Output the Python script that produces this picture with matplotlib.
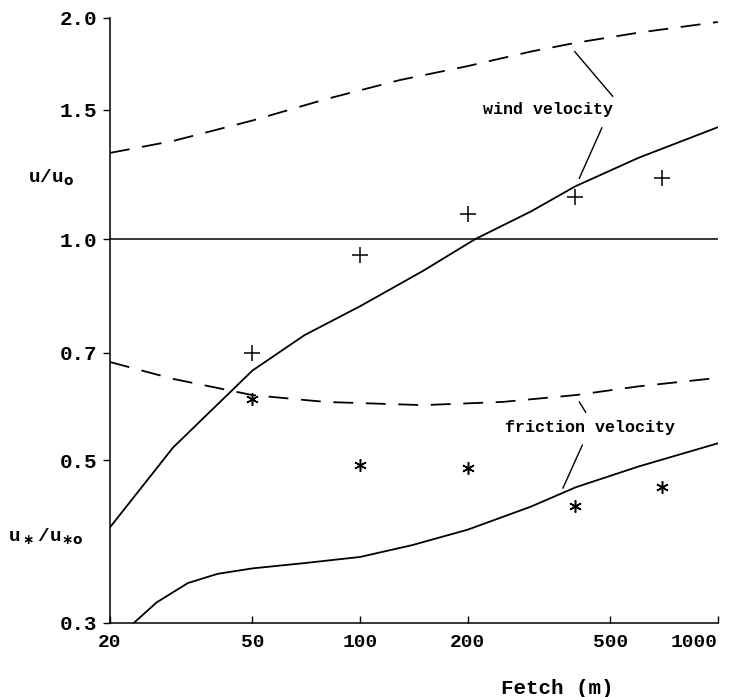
import numpy as np
import matplotlib.pyplot as plt

plt.rcParams['font.family'] = ['Liberation Mono', 'DejaVu Sans Mono']
plt.rcParams['font.weight'] = 'bold'
plt.rcParams['mathtext.fontset'] = 'dejavusans'

# model curves
wind_model_x = [20, 30, 50, 80, 129, 200, 300, 400, 600, 1000]
wind_model_y = [1.31, 1.36, 1.45, 1.55, 1.646, 1.72, 1.80, 1.85, 1.91, 1.975]

wind_calc_x = [20, 30, 50, 70, 100, 150, 210, 300, 400, 600, 1000]
wind_calc_y = [0.405, 0.52, 0.662, 0.74, 0.81, 0.905, 1.0, 1.09, 1.18, 1.29, 1.42]

fric_model_x = [20, 30, 50, 80, 150, 250, 400, 600, 1000]
fric_model_y = [0.68, 0.645, 0.613, 0.60, 0.594, 0.60, 0.613, 0.63, 0.647]

fric_calc_x = [23.3, 27, 33, 40, 50, 70, 100, 140, 200, 300, 400, 600, 1000]
fric_calc_y = [0.30, 0.32, 0.34, 0.35, 0.356, 0.362, 0.369, 0.383, 0.402, 0.432, 0.459, 0.49, 0.527]

# measurements
obs_x = [50, 100, 200, 400, 700]
wind_obs = [0.70, 0.95, 1.08, 1.14, 1.21]
fric_obs = [0.605, 0.493, 0.488, 0.433, 0.46]

fig = plt.figure(figsize=(7.34, 6.97), dpi=100)
ax = fig.add_axes([0.1499, 0.1062, 0.8281, 0.8680])

ax.plot(wind_model_x, wind_model_y, color='black', lw=1.3, dashes=(11, 7))
ax.plot(wind_calc_x, wind_calc_y, color='black', lw=1.3)
ax.plot(fric_model_x, fric_model_y, color='black', lw=1.3, dashes=(11, 7))
ax.plot(fric_calc_x, fric_calc_y, color='black', lw=1.3)
ax.axhline(1.0, color='black', lw=1.1)

ax.plot(obs_x, wind_obs, linestyle='none', marker='+', markersize=11,
        markeredgewidth=1.1, color='black')
ax.plot(obs_x, fric_obs, linestyle='none', marker=(6, 2, 0), markersize=9,
        markeredgewidth=1.1, color='black')

ax.set_xscale('log')
ax.set_yscale('log')
ax.set_xlim(20, 1000)
ax.set_ylim(0.3, 2.0)

xticks = [20, 50, 100, 200, 500, 1000]
yticks = [0.3, 0.5, 0.7, 1.0, 1.5, 2.0]
ax.set_xticks(xticks)
ax.set_xticklabels([str(t) for t in xticks])
ax.set_yticks(yticks)
ax.set_yticklabels(['%.1f' % t for t in yticks])
ax.minorticks_off()
ax.tick_params(axis='y', direction='out', length=5, width=1, labelsize=15, pad=4)
ax.tick_params(axis='x', direction='in', length=5, width=1, labelsize=14, pad=8)
lab = ax.get_xticklabels()
lab[-1].set_horizontalalignment('right')
lab[-1].set_x(1000)
lab[0].set_horizontalalignment('center')

ax.spines['top'].set_visible(False)
ax.spines['right'].set_visible(False)
ax.spines['left'].set_linewidth(1.1)
ax.spines['bottom'].set_linewidth(1.1)

# labels
fig.text(51 / 734, 1 - 178 / 697, r'u/u$_\mathrm{o}$', fontsize=14,
         ha='center', va='center')
fig.text(46 / 734, 1 - 537 / 697, r'u$_\ast$/u$_{\ast\mathrm{o}}$', fontsize=14,
         ha='center', va='center')
fig.text(557 / 734, 1 - 688 / 697, 'Fetch (m)', fontsize=15,
         ha='center', va='center')

# curve annotations
ax.text(335, 1.50, 'wind velocity', fontsize=12, ha='center', va='center')
ax.plot([398, 508], [1.80, 1.565], color='black', lw=1)
ax.plot([474, 410], [1.417, 1.21], color='black', lw=1)

ax.text(439, 0.553, 'friction velocity', fontsize=12, ha='center', va='center')
ax.plot([410, 427], [0.600, 0.581], color='black', lw=1)
ax.plot([418, 369], [0.524, 0.458], color='black', lw=1)

fig.savefig('out.png', dpi=100)
